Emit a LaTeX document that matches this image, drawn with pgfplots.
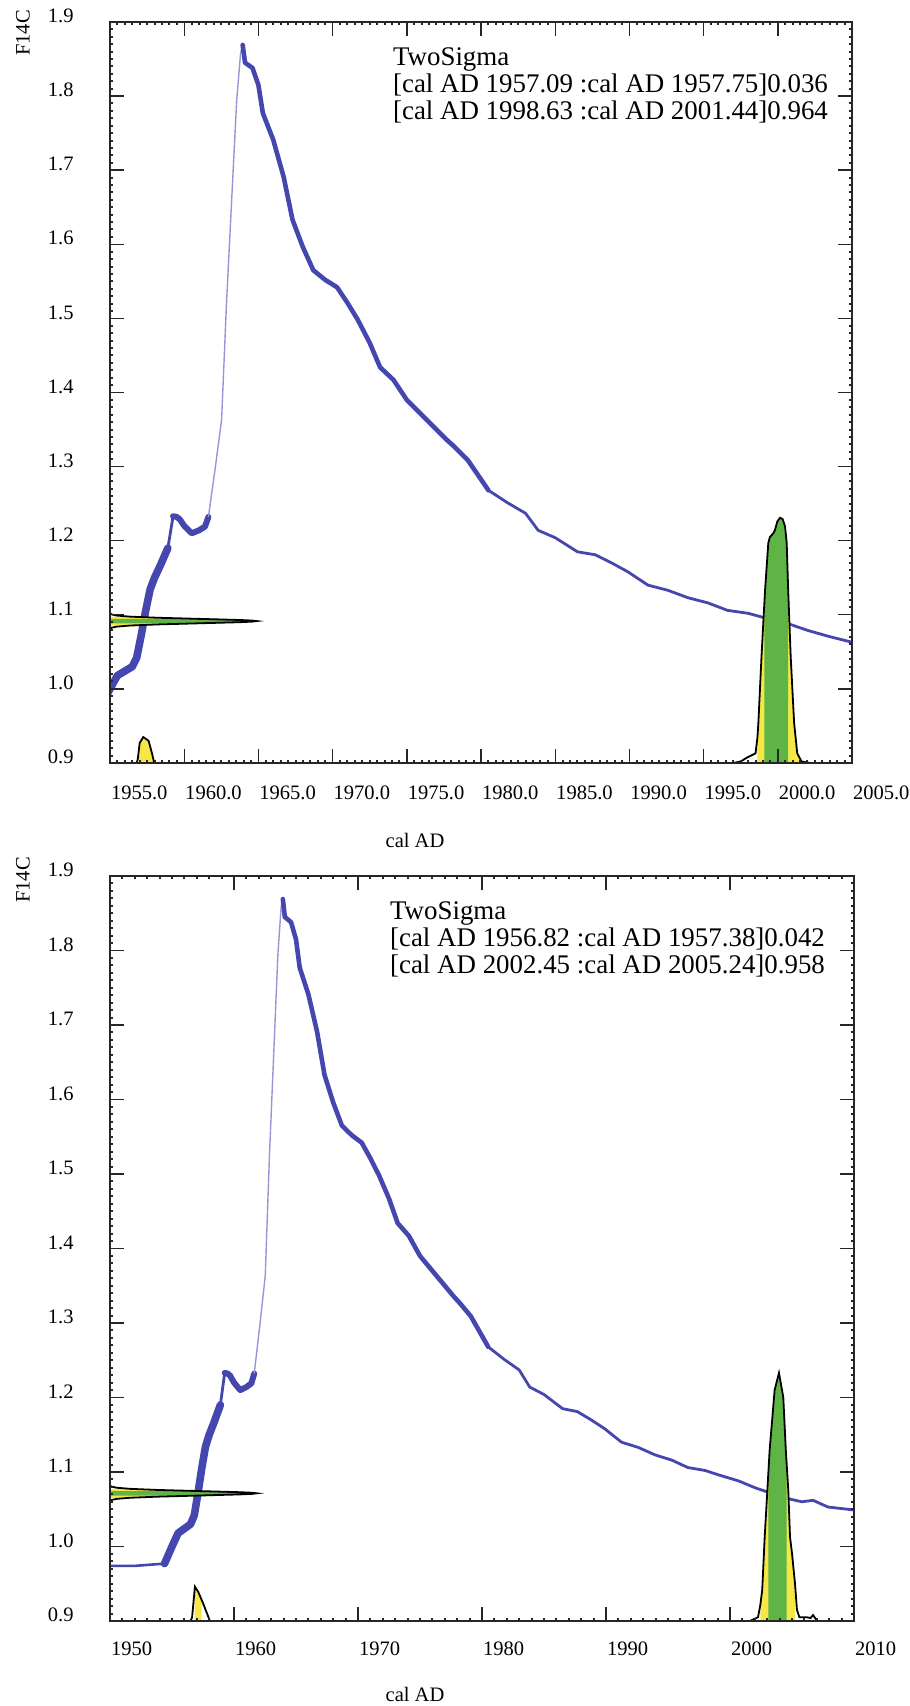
\documentclass[border=0pt]{standalone}
\usepackage{fontspec}
\setmainfont{Liberation Serif}
\usepackage{pgfplots}
\usepackage{pgfplotstable}
\pgfplotsset{compat=1.18}

\definecolor{curveblue}{RGB}{70,70,175}
\definecolor{riseblue}{RGB}{150,150,215}
\definecolor{sigyellow}{RGB}{245,232,70}
\definecolor{siggreen}{RGB}{95,180,70}

% calibration curve, split where the band width changes
\pgfplotstableread{
x y
1950.0 0.974
1952.0 0.974
1954.4 0.977
}\segA
\pgfplotstableread{
x y
1954.4 0.977
1955.0 1.000
1955.5 1.018
1956.0 1.024
1956.5 1.030
1956.8 1.042
1957.1 1.072
1957.4 1.105
1957.7 1.134
1958.0 1.150
1958.4 1.167
1958.9 1.190
}\segB
\pgfplotstableread{
x y
1958.9 1.190
1959.25 1.233
}\segC
\pgfplotstableread{
x y
1959.25 1.233
1959.5 1.232
1959.7 1.229
1960.0 1.220
1960.5 1.210
1961.0 1.214
1961.4 1.219
1961.63 1.232
}\segD
\pgfplotstableread{
x y
1961.63 1.232
1962.07 1.295
1962.52 1.363
1962.86 1.525
1963.2 1.660
1963.54 1.795
1963.8 1.858
1963.94 1.869
}\segE
\pgfplotstableread{
x y
1963.94 1.869
1964.1 1.845
1964.6 1.838
1965.0 1.815
1965.3 1.777
1966.0 1.741
1966.7 1.691
1967.3 1.633
1968.0 1.596
1968.7 1.565
1969.5 1.552
1970.3 1.542
1971.0 1.521
1971.7 1.498
1972.5 1.467
1973.2 1.434
1974.1 1.417
1975.0 1.390
1975.9 1.372
1977.0 1.350
1977.7 1.336
1978.25 1.326
1979.1 1.309
1980.5 1.268
}\segF
\pgfplotstableread{
x y
1980.5 1.268
1981.8 1.251
1983.0 1.237
1983.85 1.214
1985.0 1.204
1986.5 1.185
1987.7 1.181
1988.8 1.170
1989.9 1.158
1991.25 1.140
1992.6 1.133
1993.95 1.123
1995.3 1.116
1996.6 1.106
1998.0 1.102
1999.1 1.096
2000.7 1.088
2002.0 1.079
2003.4 1.071
2005.0 1.063
2005.8 1.060
2006.7 1.062
2007.9 1.053
2010.0 1.049
}\segG

\pgfplotsset{calstyle/.style={
    scale only axis,
    axis on top,
    ymin=0.9, ymax=1.9,
    ytick={0.9,1.0,1.1,1.2,1.3,1.4,1.5,1.6,1.7,1.8,1.9},
    yticklabels={0.9,1.0,1.1,1.2,1.3,1.4,1.5,1.6,1.7,1.8,1.9},
    minor y tick num=9,
    minor x tick num=9,
    tick align=inside,
    major tick length=7bp,
    minor tick length=1.6bp,
    tick style={black!85, line width=0.7bp},
    minor tick style={line width=1bp},
    axis line style={black!85, line width=0.7bp},
    /pgf/number format/assume math mode=true,
    tick label style={font=\rmfamily\fontsize{10.3}{12}\selectfont},
    yticklabel style={xshift=-14.7bp, yshift=3bp},
},
curvethick/.style={curveblue, line width=#1, line join=round, line cap=round}}

\begin{document}
\begin{tikzpicture}
\path[use as bounding box] (0,0) rectangle (455bp,853bp);

% ---------- top panel ----------
\begin{axis}[calstyle,
    at={(55bp,471.5bp)}, anchor=south west,
    width=371bp, height=370.5bp,
    xmin=1955, xmax=2005,
    xtick={1955,1960,1965,1970,1975,1980,1985,1990,1995,2000,2005},
    xticklabels={1955.0,1960.0,1965.0,1970.0,1975.0,1980.0,1985.0,1990.0,1995.0,2000.0,2005.0},
    xticklabel style={anchor=north west, xshift=-3bp, yshift=-7.7bp},
]
\addplot[curvethick=1.3bp] table {\segA};
\addplot[curvethick=3.8bp] table {\segB};
\addplot[curvethick=1.4bp] table {\segC};
\addplot[curvethick=3bp] table {\segD};
\addplot[riseblue, line width=0.7bp] table {\segE};
\addplot[curvethick=2.3bp] table {\segF};
\addplot[curvethick=1.4bp] table {\segG};

% measured F14C on the y axis
\addplot[fill=sigyellow, draw=none] coordinates {
  (1955,1.0855) (1956.34,1.0855) (1958.21,1.087) (1960.99,1.0885) (1963.72,1.09)
  (1964.57,1.09075) (1964.88,1.0915) (1964.57,1.09225) (1963.72,1.093)
  (1960.99,1.0945) (1958.21,1.096) (1956.34,1.0975) (1955,1.0975)} -- cycle;
\addplot[fill=siggreen, draw=none] coordinates {
  (1955,1.0885) (1960.99,1.0885) (1963.72,1.09) (1964.57,1.09075) (1964.88,1.0915)
  (1964.57,1.09225) (1963.72,1.093) (1960.99,1.0945) (1955,1.0945)} -- cycle;
\addplot[black, line width=0.9bp] coordinates {
  (1955,1.081) (1955.11,1.0825) (1955.43,1.084) (1956.34,1.0855) (1958.21,1.087)
  (1960.99,1.0885) (1963.72,1.09) (1964.57,1.09075) (1964.88,1.0915)
  (1964.57,1.09225) (1963.72,1.093) (1960.99,1.0945) (1958.21,1.096)
  (1956.34,1.0975) (1955.43,1.099) (1955.11,1.1005) (1955,1.102)};

% calibrated distribution
\addplot[fill=sigyellow, draw=none] coordinates {
  (1956.95,0.9) (1956.95,0.922) (1957.0,0.927) (1957.24,0.935) (1957.6,0.930)
  (1957.83,0.913) (1957.9,0.906) (1957.9,0.9)} -- cycle;
\addplot[black, line width=0.9bp] coordinates {
  (1956.8,0.9) (1956.87,0.905) (1957.0,0.927) (1957.24,0.935) (1957.6,0.930)
  (1957.83,0.913) (1957.98,0.9)};
\addplot[fill=sigyellow, draw=none] coordinates {
  (1998.63,0.9) (1998.63,0.935) (1998.69,0.954) (1998.9,1.043) (1999.14,1.133)
  (1999.36,1.197) (1999.47,1.205) (1999.7,1.21) (1999.8,1.214) (1999.97,1.226)
  (2000.15,1.231) (2000.33,1.229) (2000.49,1.219) (2000.6,1.197) (2000.7,1.133)
  (2000.87,1.043) (2001.1,0.954) (2001.31,0.913) (2001.44,0.908) (2001.44,0.9)} -- cycle;
\addplot[fill=siggreen, draw=none] coordinates {
  (1999.1,0.9) (1999.1,1.118) (1999.14,1.133) (1999.36,1.197) (1999.47,1.205)
  (1999.7,1.21) (1999.8,1.214) (1999.97,1.226) (2000.15,1.231) (2000.33,1.229)
  (2000.49,1.219) (2000.6,1.197) (2000.7,1.133) (2000.7,0.9)} -- cycle;
\addplot[black, line width=0.9bp] coordinates {
  (1997.0,0.900) (1997.5,0.902) (1997.9,0.907) (1998.3,0.911) (1998.5,0.913)
  (1998.63,0.935) (1998.69,0.954) (1998.9,1.043) (1999.14,1.133) (1999.36,1.197)
  (1999.47,1.205) (1999.7,1.21) (1999.8,1.214) (1999.97,1.226) (2000.15,1.231)
  (2000.33,1.229) (2000.49,1.219) (2000.6,1.197) (2000.7,1.133) (2000.87,1.043)
  (2001.1,0.954) (2001.31,0.913) (2001.6,0.902) (2002.2,0.900)};

\node[anchor=north west, align=left, inner sep=0pt, font=\fontsize{13.5}{13.6}\selectfont]
  at (rel axis cs:0.381,0.966)
  {TwoSigma\\{}[cal AD 1957.09 :cal AD 1957.75]0.036\\{}[cal AD 1998.63 :cal AD 2001.44]0.964};
\end{axis}

% ---------- bottom panel ----------
\begin{axis}[calstyle,
    at={(55bp,42.5bp)}, anchor=south west,
    width=372bp, height=372.5bp,
    xmin=1950, xmax=2010,
    xtick={1950,1960,1970,1980,1990,2000,2010},
    xticklabels={1950,1960,1970,1980,1990,2000,2010},
    xticklabel style={anchor=north west, xshift=-3bp, yshift=-6.7bp},
]
\addplot[curvethick=1.3bp] table {\segA};
\addplot[curvethick=3.8bp] table {\segB};
\addplot[curvethick=1.4bp] table {\segC};
\addplot[curvethick=3bp] table {\segD};
\addplot[riseblue, line width=0.7bp] table {\segE};
\addplot[curvethick=2.3bp] table {\segF};
\addplot[curvethick=1.4bp] table {\segG};

\addplot[fill=sigyellow, draw=none] coordinates {
  (1950,1.0654) (1951.60,1.0654) (1953.84,1.0669) (1957.17,1.0684) (1960.44,1.0699)
  (1961.46,1.07065) (1961.83,1.0714) (1961.46,1.07215) (1960.44,1.0729)
  (1957.17,1.0744) (1953.84,1.0759) (1951.60,1.0774) (1950,1.0774)} -- cycle;
\addplot[fill=siggreen, draw=none] coordinates {
  (1950,1.0684) (1957.17,1.0684) (1960.44,1.0699) (1961.46,1.07065) (1961.83,1.0714)
  (1961.46,1.07215) (1960.44,1.0729) (1957.17,1.0744) (1950,1.0744)} -- cycle;
\addplot[black, line width=0.9bp] coordinates {
  (1950,1.0609) (1950.13,1.0624) (1950.52,1.0639) (1951.60,1.0654) (1953.84,1.0669)
  (1957.17,1.0684) (1960.44,1.0699) (1961.46,1.07065) (1961.83,1.0714)
  (1961.46,1.07215) (1960.44,1.0729) (1957.17,1.0744) (1953.84,1.0759)
  (1951.60,1.0774) (1950.52,1.0789) (1950.13,1.0804) (1950,1.0819)};

\addplot[fill=sigyellow, draw=none] coordinates {
  (1956.82,0.9) (1956.82,0.941) (1956.85,0.946) (1957.12,0.939) (1957.38,0.929)
  (1957.38,0.9)} -- cycle;
\addplot[black, line width=0.9bp] coordinates {
  (1956.5,0.9) (1956.62,0.905) (1956.85,0.946) (1957.12,0.939) (1957.5,0.924)
  (1958.06,0.9)};
\addplot[fill=sigyellow, draw=none] coordinates {
  (2002.45,0.9) (2002.45,0.922) (2002.6,0.942) (2002.8,1.013) (2003.2,1.13)
  (2003.6,1.21) (2003.95,1.233) (2004.3,1.2) (2004.5,1.13) (2004.7,1.076)
  (2004.84,1.013) (2005.0,0.991) (2005.24,0.951) (2005.24,0.9)} -- cycle;
\addplot[fill=siggreen, draw=none] coordinates {
  (2003.09,0.9) (2003.09,1.098) (2003.2,1.13) (2003.6,1.21) (2003.95,1.233)
  (2004.3,1.2) (2004.5,1.13) (2004.56,1.114) (2004.56,0.9)} -- cycle;
\addplot[black, line width=0.9bp] coordinates {
  (2001.6,0.9) (2002.26,0.905) (2002.45,0.922) (2002.6,0.942) (2002.8,1.013)
  (2003.2,1.13) (2003.6,1.21) (2003.95,1.233) (2004.3,1.2) (2004.5,1.13)
  (2004.7,1.076) (2004.84,1.013) (2005.0,0.991) (2005.24,0.951) (2005.4,0.915)
  (2005.6,0.905) (2006.2,0.905) (2006.5,0.904) (2006.7,0.908) (2006.9,0.903)
  (2007.1,0.9)};

\node[anchor=north west, align=left, inner sep=0pt, font=\fontsize{13.5}{13.6}\selectfont]
  at (rel axis cs:0.376,0.966)
  {TwoSigma\\{}[cal AD 1956.82 :cal AD 1957.38]0.042\\{}[cal AD 2002.45 :cal AD 2005.24]0.958};
\end{axis}

% axis titles, outside the clipped axis area
\node[rotate=90, font=\fontsize{10.3}{12}\selectfont] at (11.5bp,836.5bp) {F14C};
\node[font=\fontsize{10.3}{12}\selectfont] at (207.5bp,433bp) {cal AD};
\node[rotate=90, font=\fontsize{10.3}{12}\selectfont] at (11.5bp,413bp) {F14C};
\node[font=\fontsize{10.3}{12}\selectfont] at (207.5bp,6bp) {cal AD};
\end{tikzpicture}
\end{document}
